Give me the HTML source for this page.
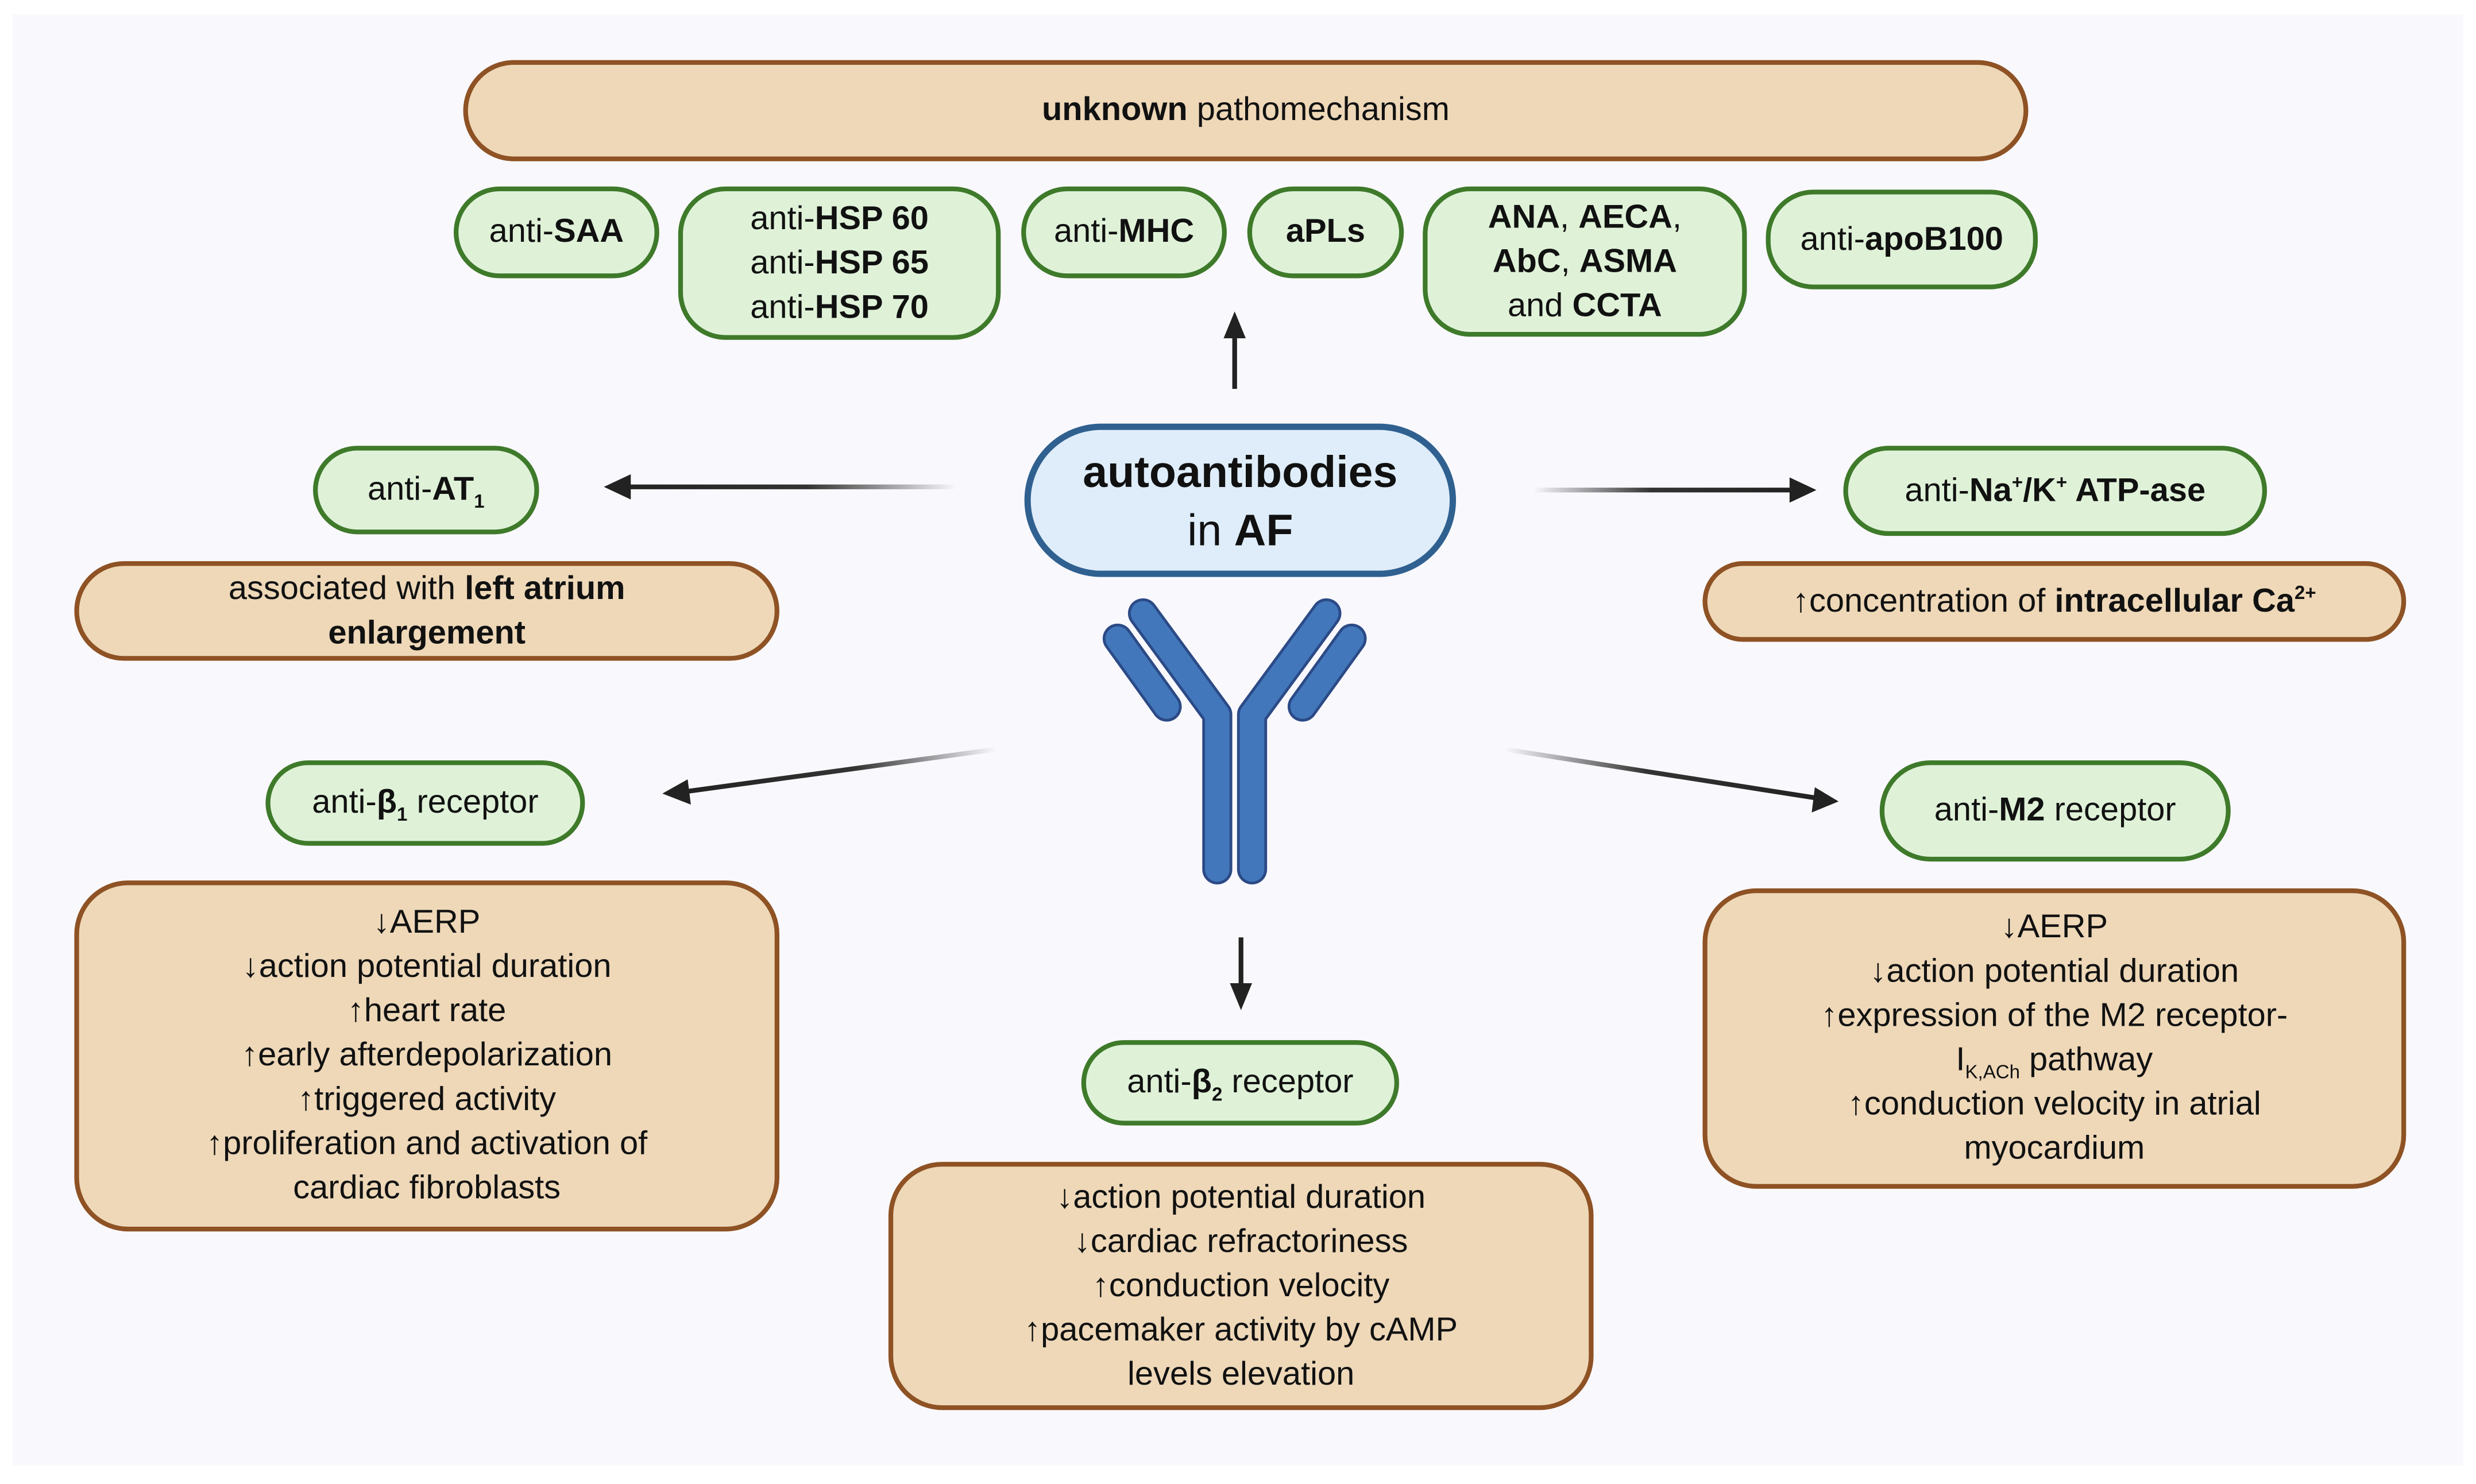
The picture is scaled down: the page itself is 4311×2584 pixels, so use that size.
<!DOCTYPE html>
<html><head><meta charset="utf-8"><style>
html,body{margin:0;padding:0;background:#fff;}
#wrap{position:relative;width:4311px;height:2584px;overflow:hidden;background:#fff;}
#s{position:absolute;left:0;top:0;width:1566px;height:940px;transform:scale(2.7525);transform-origin:0 0;font-family:"Liberation Sans",sans-serif;color:#111;}
.panel{position:absolute;left:8px;top:9px;width:1550px;height:918px;background:#f9f8fd;}
.b{position:absolute;box-sizing:border-box;display:flex;align-items:center;justify-content:center;text-align:center;font-size:21px;line-height:28px;}
.g{background:#dff2d8;border:3px solid #3e7a2a;border-radius:30px;}
.t{background:#eed8b8;border:3px solid #8e5224;border-radius:34px;}
.c{background:#dfedfa;border:4px solid #2f6090;border-radius:50px;font-size:28px;line-height:37px;}
sub,sup{font-size:12px;line-height:0;}
svg{position:absolute;left:0;top:0;}
</style></head><body><div id="wrap"><div id="s">
<div class="panel"></div>
<svg width="1560" height="935" viewBox="0 0 1560 935">
<defs>
<linearGradient id="gl" x1="0" x2="1"><stop offset="0" stop-color="#222"/><stop offset="0.55" stop-color="#333"/><stop offset="1" stop-color="#333" stop-opacity="0"/></linearGradient>
<linearGradient id="gr" x1="1" x2="0"><stop offset="0" stop-color="#222"/><stop offset="0.55" stop-color="#333"/><stop offset="1" stop-color="#333" stop-opacity="0"/></linearGradient>
</defs>
<line x1="781" y1="246" x2="781" y2="212" stroke="#222" stroke-width="3"/>
<polygon points="781,197 774,214 788,214" fill="#222"/>
<rect x="395" y="306.5" width="210" height="3" fill="url(#gl)"/>
<polygon points="382,308 399,300 399,316" fill="#222"/>
<rect x="970" y="308.5" width="165" height="3" fill="url(#gr)"/>
<polygon points="1149,310 1132,302 1132,318" fill="#222"/>
<line x1="630" y1="474" x2="432" y2="501" stroke="url(#gl)" stroke-width="3"/>
<polygon points="419,502 435,493 437,509" fill="#222"/>
<line x1="952" y1="474" x2="1150" y2="505" stroke="url(#gr)" stroke-width="3"/>
<polygon points="1163,507 1146,514 1148,498" fill="#222"/>
<line x1="785" y1="593" x2="785" y2="625" stroke="#222" stroke-width="3"/>
<polygon points="785,639 778,622 792,622" fill="#222"/>
<g fill="none" stroke-linecap="round" stroke-linejoin="round">
<g stroke="#2b4a86" stroke-width="19">
<polyline points="723,388 770,452 770,550"/><polyline points="839,388 792,452 792,550"/>
<line x1="707" y1="404" x2="738" y2="447"/><line x1="855" y1="404" x2="824" y2="447"/>
</g>
<g stroke="#4277bb" stroke-width="15.5">
<polyline points="723,388 770,452 770,550"/><polyline points="839,388 792,452 792,550"/>
<line x1="707" y1="404" x2="738" y2="447"/><line x1="855" y1="404" x2="824" y2="447"/>
</g>
</g>
</svg>

<div class="b t" style="left:293px;top:38px;width:990px;height:64px;border-radius:32px;"><span><b>unknown</b> pathomechanism</span></div>
<div class="b g" style="left:287px;top:118px;width:130px;height:58px;"><span>anti-<b>SAA</b></span></div>
<div class="b g" style="left:429px;top:118px;width:204px;height:97px;"><span>anti-<b>HSP 60</b><br>anti-<b>HSP 65</b><br>anti-<b>HSP 70</b></span></div>
<div class="b g" style="left:646px;top:118px;width:130px;height:58px;"><span>anti-<b>MHC</b></span></div>
<div class="b g" style="left:789px;top:118px;width:99px;height:58px;"><span><b>aPLs</b></span></div>
<div class="b g" style="left:900px;top:118px;width:205px;height:95px;"><span><b>ANA</b>, <b>AECA</b>,<br><b>AbC</b>, <b>ASMA</b><br>and <b>CCTA</b></span></div>
<div class="b g" style="left:1117px;top:120px;width:172px;height:63px;"><span>anti-<b>apoB100</b></span></div>

<div class="b c" style="left:648px;top:268px;width:273px;height:97px;"><span><b>autoantibodies</b><br>in <b>AF</b></span></div>

<div class="b g" style="left:198px;top:282px;width:143px;height:56px;"><span>anti-<b>AT<sub>1</sub></b></span></div>
<div class="b t" style="left:47px;top:355px;width:446px;height:63px;"><span>associated with <b>left atrium<br>enlargement</b></span></div>

<div class="b g" style="left:1166px;top:282px;width:268px;height:57px;"><span>anti-<b>Na<sup>+</sup>/K<sup>+</sup> ATP-ase</b></span></div>
<div class="b t" style="left:1077px;top:355px;width:445px;height:51px;"><span>↑concentration of <b>intracellular Ca<sup>2+</sup></b></span></div>

<div class="b g" style="left:168px;top:481px;width:202px;height:54px;"><span>anti-<b>β<sub>1</sub></b> receptor</span></div>
<div class="b t" style="left:47px;top:557px;width:446px;height:222px;"><span>↓AERP<br>↓action potential duration<br>↑heart rate<br>↑early afterdepolarization<br>↑triggered activity<br>↑proliferation and activation of<br>cardiac fibroblasts</span></div>

<div class="b g" style="left:1189px;top:481px;width:222px;height:64px;border-radius:32px;"><span>anti-<b>M2</b> receptor</span></div>
<div class="b t" style="left:1077px;top:562px;width:445px;height:190px;"><span>↓AERP<br>↓action potential duration<br>↑expression of the M2 receptor-<br>I<sub>K,ACh</sub> pathway<br>↑conduction velocity in atrial<br>myocardium</span></div>

<div class="b g" style="left:684px;top:658px;width:201px;height:54px;"><span>anti-<b>β<sub>2</sub></b> receptor</span></div>
<div class="b t" style="left:562px;top:735px;width:446px;height:157px;"><span>↓action potential duration<br>↓cardiac refractoriness<br>↑conduction velocity<br>↑pacemaker activity by cAMP<br>levels elevation</span></div>
</div></div></body></html>
